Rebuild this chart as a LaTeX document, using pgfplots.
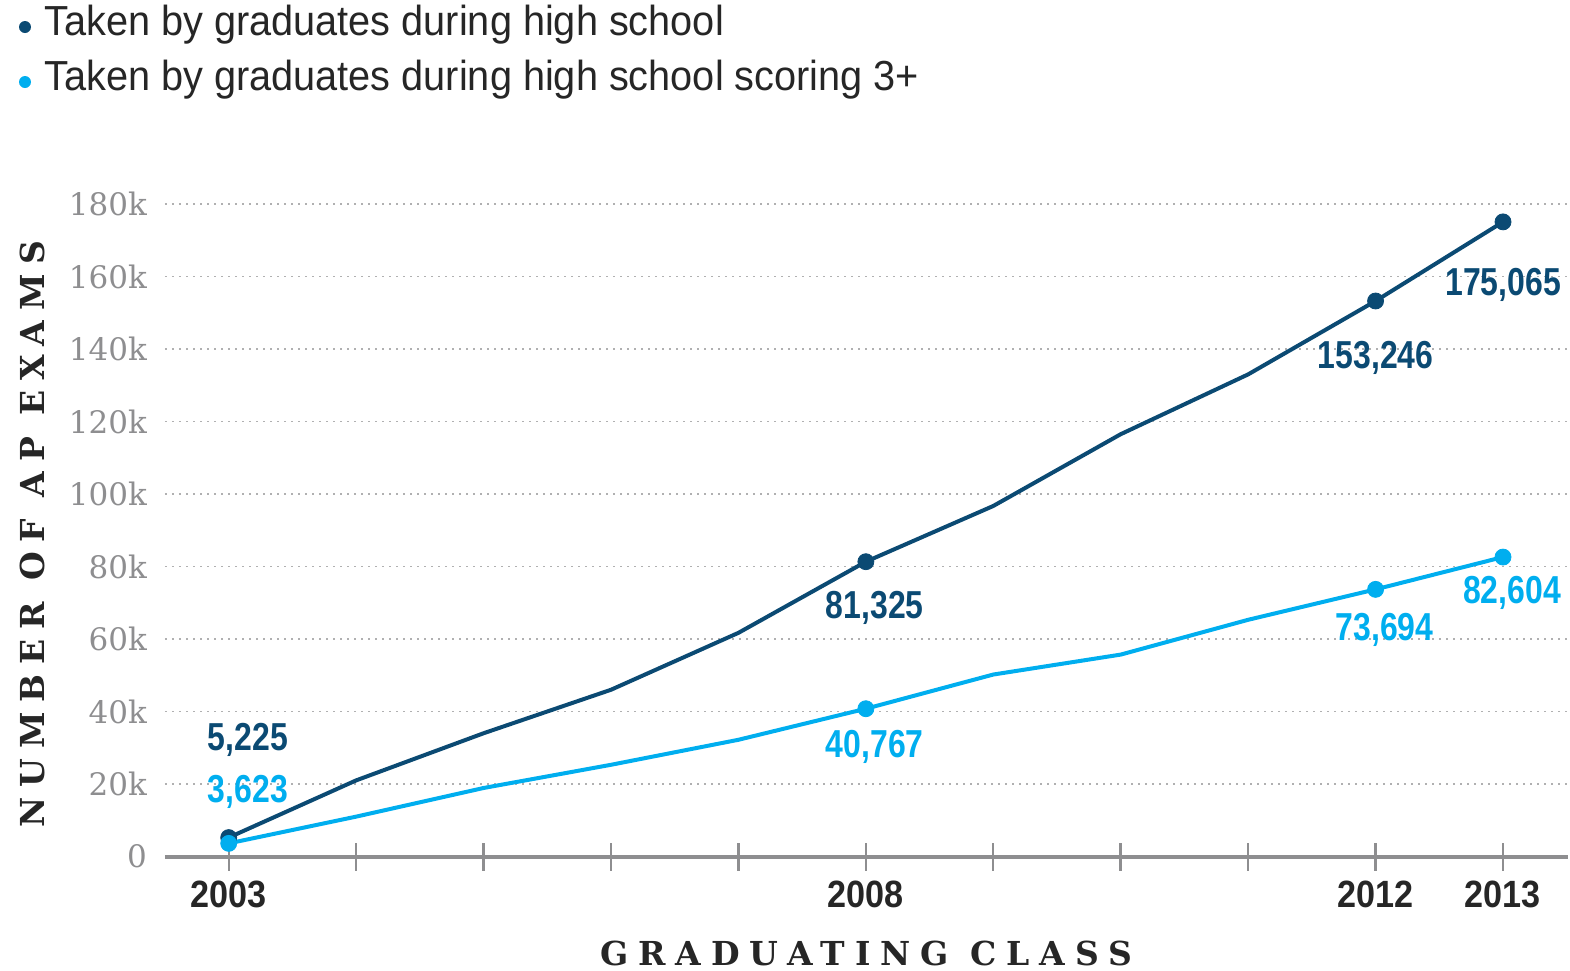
\documentclass[border=0pt]{standalone}
\usepackage{fontspec}
\usepackage{pgfplots}
\pgfplotsset{compat=1.18}
\setmainfont{Liberation Sans}
\newfontfamily\legfont[FakeStretch=0.945]{Liberation Sans}
\newfontfamily\cond[FakeStretch=0.82]{Liberation Sans}
\newfontfamily\condx[FakeStretch=0.9]{Liberation Sans}
\newfontfamily\slab{DejaVu Serif}
\newfontfamily\slabsp[LetterSpace=30,BoldFont={DejaVu Serif Bold}]{DejaVu Serif}
\definecolor{darkb}{HTML}{0B4A73}
\definecolor{lightb}{HTML}{00AEEF}
\definecolor{axgray}{HTML}{8E8E90}
\pgfplotstableread{
year total
2003 5225
2004 21000
2005 34000
2006 46000
2007 61700
2008 81325
2009 96700
2010 116500
2011 133000
2012 153246
2013 175065
}\totaltab
\pgfplotstableread{
year pass
2003 3623
2004 11000
2005 18900
2006 25300
2007 32200
2008 40767
2009 50200
2010 55700
2011 65300
2012 73694
2013 82604
}\passtab
\begin{document}
\begin{tikzpicture}
\useasboundingbox (0,0) rectangle (785pt,-485pt);
% legend
\fill[darkb] (12.5pt,-13.5pt) circle (3pt);
\node[anchor=west, inner sep=0pt, font=\legfont\fontsize{21pt}{24pt}\selectfont, text=black!85] at (22pt,-12.5pt) {Taken by graduates during high school};
\fill[lightb] (12.5pt,-41pt) circle (3pt);
\node[anchor=west, inner sep=0pt, font=\legfont\fontsize{21pt}{24pt}\selectfont, text=black!85] at (22pt,-40pt) {Taken by graduates during high school scoring 3+};
% axis titles
\node[font=\slabsp\bfseries\fontsize{16.5pt}{18pt}\selectfont, text=black!85] at (433pt,-476.5pt) {GRADUATING CLASS};
\node[rotate=90, font=\slabsp\bfseries\fontsize{16.5pt}{18pt}\selectfont, text=black!85] at (16pt,-267pt) {NUMBER OF AP EXAMS};
\begin{axis}[
  at={(82.5pt,-428.25pt)}, anchor=south west,
  scale only axis, width=701.5pt, height=326.25pt,
  xmin=2002.5, xmax=2013.51, ymin=0, ymax=180000,
  clip=false,
  axis x line*=bottom, axis y line*=left,
  y axis line style={draw=none},
  x axis line style={axgray, line width=2pt, -},
  xtick={2003,2004,...,2013},
  xticklabels={2003,,,,,2008,,,,2012,2013},
  major tick length=14pt,
  xtick align=center,
  xtick style={axgray, line width=1.2pt},
  xticklabel style={font=\condx\bfseries\fontsize{19pt}{21pt}\selectfont, text=black!85, yshift=-1.5pt},
  ytick={0,20000,...,180000},
  yticklabels={0,20k,40k,60k,80k,100k,120k,140k,160k,180k},
  ytick style={draw=none},
  yticklabel style={font=\slab\fontsize{15.5pt}{17pt}\selectfont, text=axgray, xshift=-5.5pt},
  ymajorgrids,
  grid style={axgray!70, line width=0.9pt, dash pattern=on 0.9pt off 2.6pt},
  scaled y ticks=false,
]
\addplot[darkb, line width=2pt, mark=none] table[x=year,y=total] {\totaltab};
\addplot[lightb, line width=2pt, mark=none] table[x=year,y=pass] {\passtab};
\addplot[only marks, darkb, mark=*, mark size=4pt] coordinates {(2003,5225) (2008,81325) (2012,153246) (2013,175065)};
\addplot[only marks, lightb, mark=*, mark size=4pt] coordinates {(2003,3623) (2008,40767) (2012,73694) (2013,82604)};
\begin{scope}[every node/.style={font=\cond\bfseries\fontsize{19.5pt}{22pt}\selectfont, inner sep=0pt}]
\node[text=darkb] at (axis cs:2003.15,32100) {5,225};
\node[text=lightb] at (axis cs:2003.15,17800) {3,623};
\node[text=darkb] at (axis cs:2008.07,68600) {81,325};
\node[text=lightb] at (axis cs:2008.07,30200) {40,767};
\node[text=darkb] at (axis cs:2012.0,137500) {153,246};
\node[text=darkb] at (axis cs:2013.0,157700) {175,065};
\node[text=lightb] at (axis cs:2012.07,62500) {73,694};
\node[text=lightb] at (axis cs:2013.07,72700) {82,604};
\end{scope}
\end{axis}
\end{tikzpicture}
\end{document}
